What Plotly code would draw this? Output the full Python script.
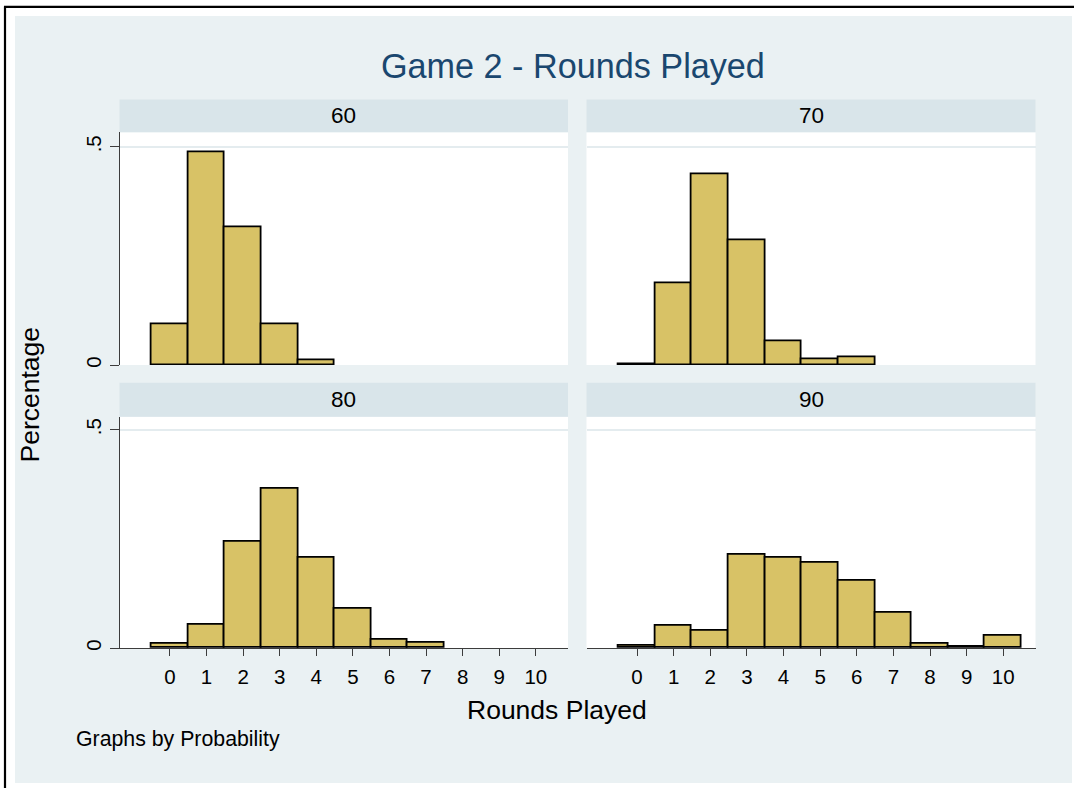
import plotly.graph_objects as go

# Share of players by number of rounds played, one panel per probability level
rounds = list(range(11))
tick_labels = [str(r) for r in rounds]
panels = ["60", "70", "80", "90"]

share_60 = [0.093, 0.488, 0.317, 0.093, 0.011, None, None, None, None, None, None]
share_70 = [0.003, 0.188, 0.438, 0.287, 0.055, 0.014, 0.018, None, None, None, None]
share_80 = [0.009, 0.053, 0.243, 0.365, 0.206, 0.090, 0.018, 0.013, None, None, None]
share_90 = [0.005, 0.050, 0.040, 0.214, 0.208, 0.195, 0.155, 0.082, 0.011, 0.004, 0.028]

y_ticks = [0, 0.5]
y_tick_text = ["0", ".5"]

W, H = 1074, 791
OUTER_BG = "#EAF1F3"
STRIP_BG = "#D9E5EA"
BAR_FILL = "#D8C266"
TITLE_COL = "#1A476F"
AXIS_COL = "#3C3C3C"
FONT = "Liberation Sans, Arial, sans-serif"


def fx(p):
    return p / W


def fy(p):
    return 1 - p / H


# panel geometry (pixels)
cols = [(119.5, 568.0), (586.5, 1035.5)]
rows = [(132.7, 366.5), (418.3, 650.5)]
strips = [(100.0, 132.7), (384.3, 418.3)]

fig = go.Figure()

series = [share_60, share_70, share_80, share_90]
for i, vals in enumerate(series):
    ax = "" if i == 0 else str(i + 1)
    fig.add_trace(go.Bar(
        x=rounds, y=vals, width=1.0,
        marker=dict(color=BAR_FILL, line=dict(color="black", width=1.8)),
        xaxis="x" + ax, yaxis="y" + ax, showlegend=False,
        hoverinfo="x+y",
    ))

layout = dict(
    width=W, height=H,
    margin=dict(l=0, r=0, t=0, b=0),
    paper_bgcolor="white", plot_bgcolor="white",
    bargap=0, barmode="overlay",
    font=dict(family=FONT, color="black"),
)

shapes = [
    dict(type="rect", xref="paper", yref="paper", layer="below",
         x0=fx(15), x1=fx(1072), y0=fy(786), y1=fy(16),
         fillcolor=OUTER_BG, line=dict(width=0)),
    dict(type="line", xref="paper", yref="paper",
         x0=fx(5), x1=fx(5), y0=fy(791), y1=fy(6.5),
         line=dict(color="black", width=2.2)),
    dict(type="line", xref="paper", yref="paper",
         x0=fx(4), x1=fx(1074), y0=fy(7), y1=fy(7),
         line=dict(color="black", width=2.2)),
]
annotations = []

for i in range(4):
    r, c = divmod(i, 2)
    ax = "" if i == 0 else str(i + 1)
    x0, x1 = cols[c]
    y_top, y_bot = rows[r]
    s_top, s_bot = strips[r]
    bottom_row = r == 1
    left_col = c == 0

    layout["xaxis" + ax] = dict(
        domain=[fx(x0), fx(x1)], anchor="y" + ax,
        range=[-1.38, 10.88], fixedrange=True,
        tickmode="array", tickvals=rounds, ticktext=tick_labels,
        showticklabels=bottom_row,
        ticks="outside" if bottom_row else "", ticklen=7, tickwidth=1,
        tickcolor=AXIS_COL, ticklabelstandoff=3,
        showline=bottom_row, linecolor=AXIS_COL, linewidth=1,
        showgrid=False, zeroline=False,
        tickfont=dict(size=20.5, family=FONT, color="black"),
    )
    layout["yaxis" + ax] = dict(
        domain=[fy(y_bot), fy(y_top)], anchor="x" + ax,
        range=[0, (y_bot - y_top) / 438.2], fixedrange=True,
        tickmode="array", tickvals=y_ticks, ticktext=y_tick_text,
        showticklabels=left_col, tickangle=-90,
        ticks="outside" if left_col else "", ticklen=9, tickwidth=1,
        tickcolor=AXIS_COL,
        showline=left_col, linecolor=AXIS_COL, linewidth=1,
        showgrid=True, gridcolor="#E4ECEF", gridwidth=1.5,
        zeroline=False,
        tickfont=dict(size=20.5, family=FONT, color="black"),
    )

    # white plotting region and the caption strip above it
    shapes.append(dict(
        type="rect", xref="paper", yref="paper", layer="below",
        x0=fx(x0), x1=fx(x1), y0=fy(y_bot), y1=fy(y_top),
        fillcolor="white", line=dict(width=0),
    ))
    shapes.append(dict(
        type="rect", xref="paper", yref="paper", layer="below",
        x0=fx(x0), x1=fx(x1), y0=fy(s_bot), y1=fy(s_top),
        fillcolor=STRIP_BG, line=dict(width=0),
    ))
    annotations.append(dict(
        text=panels[i], xref="paper", yref="paper",
        x=fx((x0 + x1) / 2), y=fy((s_top + s_bot) / 2),
        xanchor="center", yanchor="middle", showarrow=False,
        font=dict(size=22.5, family=FONT, color="black"),
    ))

annotations += [
    dict(text="Game 2 - Rounds Played", xref="paper", yref="paper",
         x=fx(573), y=fy(66), xanchor="center", yanchor="middle",
         showarrow=False, font=dict(size=34.2, family=FONT, color=TITLE_COL)),
    dict(text="Rounds Played", xref="paper", yref="paper",
         x=fx(557), y=fy(713), xanchor="center", yanchor="middle",
         showarrow=False, font=dict(size=26.5, family=FONT, color="black")),
    dict(text="Percentage", xref="paper", yref="paper",
         x=fx(30), y=fy(396), xanchor="center", yanchor="middle",
         textangle=-90, showarrow=False,
         font=dict(size=26.5, family=FONT, color="black")),
    dict(text="Graphs by Probability", xref="paper", yref="paper",
         x=fx(74), y=fy(742), xanchor="left", yanchor="middle",
         showarrow=False, font=dict(size=21.3, family=FONT, color="black")),
]

layout["shapes"] = shapes
layout["annotations"] = annotations
fig.update_layout(**layout)

fig.write_html("out.html", config={"displayModeBar": False})
